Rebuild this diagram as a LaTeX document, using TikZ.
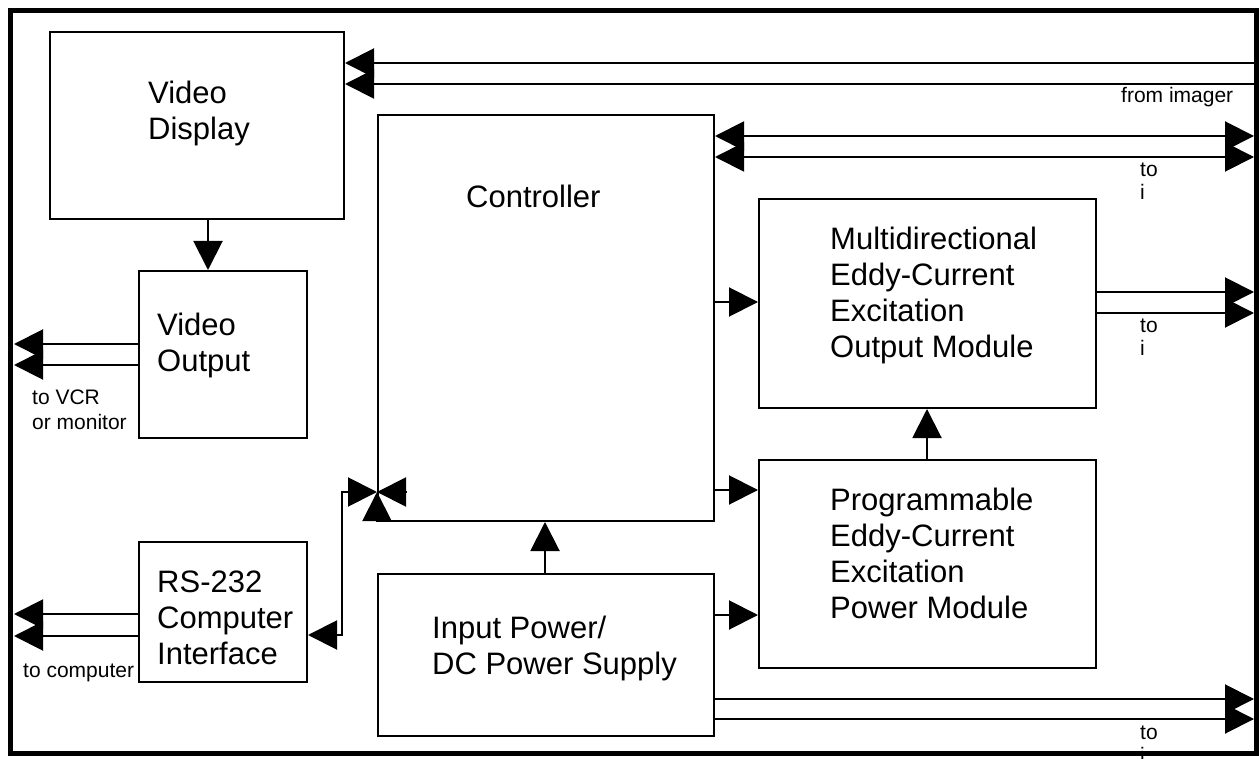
\documentclass[tikz,border=0pt]{standalone}
\usepackage{fontspec}
\setmainfont{Liberation Sans}
\usetikzlibrary{arrows.meta,calc}
\begin{document}
\begin{tikzpicture}[x=1pt,y=-1pt,
  box/.style={draw,line width=2pt,inner sep=0pt,anchor=north west},
  big/.style={font=\fontsize{31}{36}\selectfont,align=left,anchor=north west,inner sep=0pt},
  small/.style={font=\fontsize{21}{23}\selectfont,align=left,anchor=north west,inner sep=0pt},
  conn/.style={line width=2pt},
  >={Triangle[length=29pt,width=29pt]}]
\useasboundingbox (0,0) rectangle (1259,759);
% boxes
\node[box,minimum width=294pt,minimum height=187pt] (vd) at (49,31) {};
\node[box,minimum width=168pt,minimum height=167pt] (vo) at (138,270) {};
\node[box,minimum width=168pt,minimum height=140pt] (rs) at (138,541) {};
\node[box,minimum width=336pt,minimum height=406pt] (ct) at (377,114) {};
\node[box,minimum width=336pt,minimum height=162pt] (ip) at (377,573) {};
\node[box,minimum width=337pt,minimum height=209pt] (mu) at (758,198) {};
\node[box,minimum width=337pt,minimum height=208pt] (pr) at (758,459) {};
% box texts
\node[big] (vdT) at (148,81) {Video\\Display};
\node[big] (voT) at (157,313) {Video\\Output};
\node[big] (rsT) at (157,571) {RS-232\\Computer\\Interface};
\node[big] (ctT) at (466,185) {Controller};
\node[big] (muT) at (830,227) {Multidirectional\\Eddy-Current\\Excitation\\Output Module};
\node[big] (prT) at (830,488) {Programmable\\Eddy-Current\\Excitation\\Power Module};
\node[big] (ipT) at (432,616) {Input Power/\\DC Power Supply};
% free ends
\coordinate (imgA) at (1255,63);
\coordinate (imgB) at (1255,84);
\coordinate (ctoA) at (1254,136);
\coordinate (ctoB) at (1254,157);
\coordinate (muoA) at (1254,292);
\coordinate (muoB) at (1254,313);
\coordinate (ipoA) at (1254,699);
\coordinate (ipoB) at (1254,719);
\coordinate (vcrA) at (14,344);
\coordinate (vcrB) at (14,365);
\coordinate (pcA) at (14,614);
\coordinate (pcB) at (14,636);
\coordinate (cj) at ($(ct.south west)+(0,-30)$);
% connectors
\draw[conn,->] (imgA) -- (vd.east |- imgA);
\draw[conn,->] (imgB) -- (vd.east |- imgB);
\draw[conn,<->] (ct.east |- ctoA) -- (ctoA);
\draw[conn,<->] (ct.east |- ctoB) -- (ctoB);
\draw[conn,->] (mu.east |- muoA) -- (muoA);
\draw[conn,->] (mu.east |- muoB) -- (muoB);
\draw[conn,->] (ip.east |- ipoA) -- (ipoA);
\draw[conn,->] (ip.east |- ipoB) -- (ipoB);
\draw[conn,->] (vo.west |- vcrA) -- (vcrA);
\draw[conn,->] (vo.west |- vcrB) -- (vcrB);
\draw[conn,->] (rs.west |- pcA) -- (pcA);
\draw[conn,->] (rs.west |- pcB) -- (pcB);
\draw[conn,->] ($(vd.south west)+(159,0)$) -- ($(vo.north west)+(70,0)$);
\draw[conn,->] ($(ip.north west)+(168,0)$) -- ($(ct.south west)+(168,0)$);
\draw[conn,->] ($(pr.north west)+(169,0)$) -- ($(mu.south west)+(169,0)$);
\draw[conn,->] ($(ct.north east)+(0,188)$) -- ($(mu.north west)+(0,104)$);
\draw[conn,->] ($(ct.north east)+(0,376)$) -- ($(pr.north west)+(0,31)$);
\draw[conn,->] ($(ip.north east)+(0,42)$) -- ($(pr.north west)+(0,156)$);
\draw[conn,<->] ($(rs.north east)+(0,94)$) -| ($(cj)+(-35,0)$) -- (cj);
\draw[conn,->] ($(cj)+(30,0)$) -- (cj);
\draw[conn,->] (ct.south west) -- (cj);
% small labels
\node[small,anchor=base west] (fromimg) at (1121,103) {from imager};
\node[small] (to1) at (1140,162.5) {to\\i};
\node[small] (to2) at (1140,318.5) {to\\i};
\node[small] (to3) at (1140,725.5) {to\\i};
\node[small,font=\fontsize{21}{25}\selectfont] (vcr) at (32,390) {to VCR\\or monitor};
\node[small,anchor=base west] (tocomp) at (23,677) {to computer};
% frame
\draw[line width=5pt] (10.5,10.5) rectangle (1256,753);
\end{tikzpicture}
\end{document}
